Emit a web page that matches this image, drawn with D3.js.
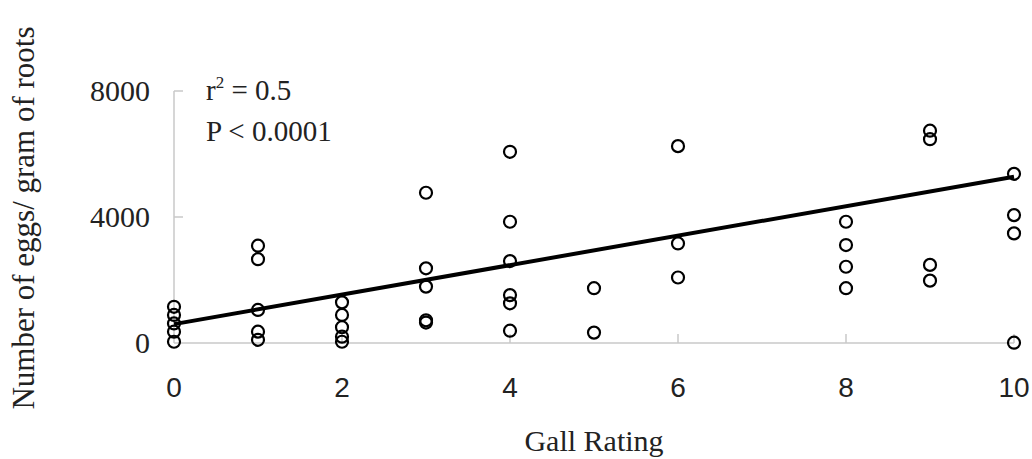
<!DOCTYPE html>
<html>
<head>
<meta charset="utf-8">
<script src="https://cdn.jsdelivr.net/npm/d3@7"></script>
<style>
  body { margin: 0; background: #fff; }
  .serif { font-family: "Liberation Serif", "Times New Roman", serif; fill: #222; }
  .sans { font-family: "Liberation Sans", Arial, sans-serif; fill: #222; }
</style>
</head>
<body>
<div id="chart"></div>
<script>
// gall rating of each plant and the eggs counted per gram of roots
var gallRating = [0, 0, 0, 0, 0,
                  1, 1, 1, 1, 1,
                  2, 2, 2, 2, 2,
                  3, 3, 3, 3, 3,
                  4, 4, 4, 4, 4, 4,
                  5, 5,
                  6, 6, 6,
                  8, 8, 8, 8,
                  9, 9, 9, 9,
                  10, 10, 10, 10]
var eggs = [1150, 890, 620, 360, 40,
            3090, 2660, 1050, 360, 100,
            1290, 890, 500, 200, 40,
            4770, 2370, 1790, 720, 650,
            6070, 3850, 2600, 1520, 1260, 390,
            1740, 330,
            6250, 3160, 2080,
            3850, 3110, 2420, 1740,
            6740, 6470, 2480, 1980,
            5370, 4060, 3480, 10]

// fitted regression line at its two ends
var fitX = [0, 10]
var fitY = [600, 5280]

var xTicks = [0, 2, 4, 6, 8, 10]
var yTicks = [0, 4000, 8000]

var W = 1032, H = 459
var m = {left: 174, right: 18, top: 91, bottom: 116}

var svg = d3.select('#chart').append('svg')
  .attr('width', W).attr('height', H)

var x = d3.scaleLinear().domain([0, 10]).range([m.left, W - m.right])
var y = d3.scaleLinear().domain([0, 8000]).range([H - m.bottom, m.top])

var axisColor = '#c8c8c8'

// axis lines
svg.append('line')
  .attr('x1', x(0)).attr('x2', x(10)).attr('y1', y(0)).attr('y2', y(0))
  .attr('stroke', axisColor).attr('stroke-width', 1.5)
svg.append('line')
  .attr('x1', x(0)).attr('x2', x(0)).attr('y1', y(0)).attr('y2', y(8000))
  .attr('stroke', axisColor).attr('stroke-width', 1.5)

// inward ticks
svg.selectAll('line.xt').data(xTicks.slice(1)).enter().append('line')
  .attr('x1', d => x(d)).attr('x2', d => x(d))
  .attr('y1', y(0)).attr('y2', y(0) - 9)
  .attr('stroke', axisColor).attr('stroke-width', 1.5)
svg.selectAll('line.yt').data(yTicks.slice(1)).enter().append('line')
  .attr('x1', x(0)).attr('x2', x(0) + 9)
  .attr('y1', d => y(d)).attr('y2', d => y(d))
  .attr('stroke', axisColor).attr('stroke-width', 1.5)

// tick labels
svg.selectAll('text.xl').data(xTicks).enter().append('text')
  .attr('class', 'sans')
  .attr('x', d => x(d)).attr('y', 397)
  .attr('text-anchor', 'middle')
  .style('font-size', '28px')
  .text(d => d)

svg.selectAll('text.yl').data(yTicks).enter().append('text')
  .attr('class', 'serif')
  .attr('x', 150).attr('y', d => y(d))
  .attr('dy', '0.34em')
  .attr('text-anchor', 'end')
  .style('font-size', '30px')
  .text(d => d)

// axis titles
svg.append('text').attr('class', 'serif')
  .attr('x', (x(0) + x(10)) / 2).attr('y', 451)
  .attr('text-anchor', 'middle')
  .style('font-size', '30px')
  .text('Gall Rating')

svg.append('text').attr('class', 'serif')
  .attr('transform', 'translate(34,218) rotate(-90)')
  .attr('text-anchor', 'middle')
  .style('font-size', '31px')
  .text('Number of eggs/ gram of roots')

// stats
var r2 = svg.append('text').attr('class', 'serif')
  .attr('x', 206).attr('y', 100)
  .style('font-size', '29px')
r2.append('tspan').text('r')
r2.append('tspan').attr('dy', -12).style('font-size', '17px').text('2')
r2.append('tspan').attr('dy', 12).text(' = 0.5')

svg.append('text').attr('class', 'serif')
  .attr('x', 206).attr('y', 141)
  .style('font-size', '29px')
  .text('P < 0.0001')

// regression line
var line = d3.line().x(d => x(d[0])).y(d => y(d[1]))
svg.append('path')
  .attr('d', line(d3.zip(fitX, fitY)))
  .attr('fill', 'none').attr('stroke', '#000').attr('stroke-width', 4)

// points
svg.selectAll('circle').data(d3.zip(gallRating, eggs)).enter().append('circle')
  .attr('cx', d => x(d[0])).attr('cy', d => y(d[1]))
  .attr('r', 6)
  .attr('fill', 'none').attr('stroke', '#000').attr('stroke-width', 2.2)
</script>
</body>
</html>
